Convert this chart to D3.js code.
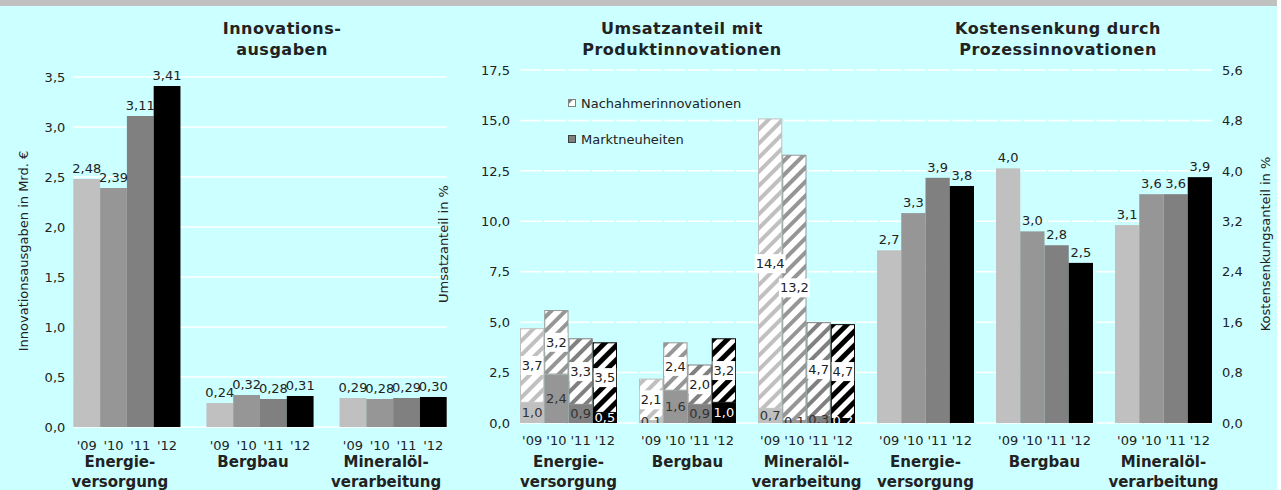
<!DOCTYPE html>
<html>
<head>
<meta charset="utf-8">
<script src="https://cdn.jsdelivr.net/npm/d3@7"></script>
<style>
  body { margin: 0; background: #fff; }
  text { font-family: "DejaVu Sans", Verdana, sans-serif; fill: #222; }
</style>
</head>
<body>
<div id="chart"></div>
<script>
const width = 1281;
const height = 490;

// data
const years = ["'09", "'10", "'11", "'12"];
const industries = [["Energie-", "versorgung"], ["Bergbau"], ["Mineralöl-", "verarbeitung"]];
const yearColors = ["#c0c0c0", "#969696", "#808080", "#000000"];

// Innovationsausgaben in Mrd. €
const ausgaben = [
  [2.48, 2.39, 3.11, 3.41],
  [0.24, 0.32, 0.28, 0.31],
  [0.29, 0.28, 0.29, 0.30]
];
// Umsatzanteil in %: Marktneuheiten (unten) und Nachahmerinnovationen (oben)
const marktneuheiten = [
  [1.0, 2.4, 0.9, 0.5],
  [0.1, 1.6, 0.9, 1.0],
  [0.7, 0.1, 0.3, 0.2]
];
const nachahmer = [
  [3.7, 3.2, 3.3, 3.5],
  [2.1, 2.4, 2.0, 3.2],
  [14.4, 13.2, 4.7, 4.7]
];
// Kostensenkungsanteil in %
const kosten = [
  [2.74, 3.33, 3.89, 3.76],
  [4.04, 3.04, 2.82, 2.54],
  [3.14, 3.63, 3.63, 3.90]
];

const ticksLeft = [0, 0.5, 1, 1.5, 2, 2.5, 3, 3.5];
const ticksMid = [0, 2.5, 5, 7.5, 10, 12.5, 15, 17.5];
const ticksRight = [0, 0.8, 1.6, 2.4, 3.2, 4.0, 4.8, 5.6];

const de = d3.formatLocale({decimal: ",", thousands: ".", grouping: [3], currency: ["", " €"]});
const f1 = de.format(".1f");
const f2 = de.format(".2f");

const svg = d3.select("#chart").append("svg")
  .attr("width", width)
  .attr("height", height);

svg.append("rect").attr("width", 1277).attr("height", height).attr("fill", "#ccffff");
svg.append("rect").attr("width", 1277).attr("height", 6).attr("fill", "#c0c0c0");

// hatch patterns for Nachahmerinnovationen
const defs = svg.append("defs");
yearColors.forEach((c, i) => {
  const p = defs.append("pattern")
    .attr("id", "hatch" + i)
    .attr("patternUnits", "userSpaceOnUse")
    .attr("width", 10).attr("height", 10)
    .attr("patternTransform", "rotate(45)");
  p.append("rect").attr("width", 10).attr("height", 10).attr("fill", "#fff");
  p.append("rect").attr("width", i == 3 ? 5 : 4).attr("height", 10).attr("fill", c);
});
defs.append("clipPath").attr("id", "plotclip")
  .append("rect").attr("x", 500).attr("y", 60).attr("width", 740).attr("height", 363);

function titleText(x, lines) {
  svg.append("text")
    .attr("x", x).attr("y", 34)
    .attr("text-anchor", "middle")
    .style("font-size", "16px").style("font-weight", "bold")
    .style("letter-spacing", "0.5px")
    .selectAll("tspan").data(lines).enter().append("tspan")
    .attr("x", x).attr("dy", (d, i) => i ? 21 : 0)
    .text(d => d);
}

function axisTitle(x, y, label) {
  svg.append("text")
    .attr("transform", "translate(" + x + "," + y + ") rotate(-90)")
    .attr("text-anchor", "middle")
    .attr("dominant-baseline", "central")
    .style("font-size", "13px")
    .text(label);
}

function styleAxis(g) {
  g.select(".domain").remove();
  g.selectAll("text").style("font-size", "13px").style("font-family", "DejaVu Sans, sans-serif").attr("fill", "#222");
}

function grid(y, ticks, x0, x1, dash) {
  svg.append("g").selectAll("line").data(ticks).enter().append("line")
    .attr("x1", x0).attr("x2", x1)
    .attr("y1", d => y(d)).attr("y2", d => y(d))
    .attr("stroke", "#fff").attr("stroke-width", 1.5)
    .attr("stroke-dasharray", dash);
}

function categoryLabels(x, yearY, shift) {
  const g = svg.append("g");
  industries.forEach((lines, i) => {
    years.forEach((yr, j) => {
      g.append("text")
        .attr("x", x.x0(i) + x.inner(yr) + x.inner.bandwidth() / 2)
        .attr("y", yearY)
        .attr("text-anchor", "middle")
        .style("font-size", "13px")
        .text(yr);
    });
    g.append("text")
      .attr("y", 467)
      .attr("text-anchor", "middle")
      .style("font-size", "15px").style("font-weight", "bold")
      .selectAll("tspan").data(lines).enter().append("tspan")
      .attr("x", x.x0(i) + x.band / 2 + shift)
      .attr("dy", (d, k) => k ? 20 : 0)
      .text(d => d);
  });
}

// ---------- left chart: Innovationsausgaben ----------
const xL = d3.scaleBand().domain([0, 1, 2]).range([60, 460]).paddingInner(0.195).paddingOuter(0.1);
const xLin = d3.scaleBand().domain(years).range([0, xL.bandwidth()]);
const yL = d3.scaleLinear().domain([0, 3.5]).range([427, 77]);

titleText(282, ["Innovations-", "ausgaben"]);
grid(yL, ticksLeft, xL(0), xL(2) + xL.bandwidth(), null);
svg.append("g").attr("transform", "translate(" + xL(0) + ",0)")
  .call(d3.axisLeft(yL).tickValues(ticksLeft).tickFormat(f1).tickSize(0).tickPadding(8))
  .call(styleAxis);
axisTitle(23, 251, "Innovationsausgaben in Mrd. €");

ausgaben.forEach((vals, i) => {
  const g = svg.append("g").attr("transform", "translate(" + xL(i) + ",0)");
  g.selectAll("rect").data(vals).enter().append("rect")
    .attr("x", (d, j) => xLin(years[j]))
    .attr("y", d => yL(d))
    .attr("width", xLin.bandwidth())
    .attr("height", d => yL(0) - yL(d))
    .attr("fill", (d, j) => yearColors[j]);
  g.selectAll("text").data(vals).enter().append("text")
    .attr("x", (d, j) => xLin(years[j]) + xLin.bandwidth() / 2)
    .attr("y", d => yL(d) - 6)
    .attr("text-anchor", "middle")
    .style("font-size", "13px")
    .text(d => f2(d));
});
categoryLabels({x0: i => xL(i), inner: xLin, band: xL.bandwidth()}, 450, -7);

// ---------- middle + right chart (shared plot) ----------
const slots = d3.range(6);
const xM = d3.scaleBand().domain(slots).range([509, 1223]).paddingInner(0.185).paddingOuter(0.0925);
const xMin = d3.scaleBand().domain(years).range([0, xM.bandwidth()]);
const yM = d3.scaleLinear().domain([0, 17.5]).range([423, 70]);
const yR = d3.scaleLinear().domain([0, 5.6]).range([423, 70]);

titleText(682, ["Umsatzanteil mit", "Produktinnovationen"]);
titleText(1058, ["Kostensenkung durch", "Prozessinnovationen"]);
grid(yM, ticksMid, xM(0), xM(5) + xM.bandwidth(), "22,2");
svg.append("g").attr("transform", "translate(" + xM(0) + ",0)")
  .call(d3.axisLeft(yM).tickValues(ticksMid).tickFormat(f1).tickSize(0).tickPadding(10))
  .call(styleAxis);
svg.append("g").attr("transform", "translate(" + (xM(5) + xM.bandwidth()) + ",0)")
  .call(d3.axisRight(yR).tickValues(ticksRight).tickFormat(f1).tickSize(0).tickPadding(10))
  .call(styleAxis);
axisTitle(443, 244, "Umsatzanteil in %");
axisTitle(1265, 244, "Kostensenkungsanteil in %");

// stacked hatched bars
marktneuheiten.forEach((vals, i) => {
  const g = svg.append("g").attr("transform", "translate(" + xM(i) + ",0)");
  vals.forEach((m, j) => {
    const n = nachahmer[i][j];
    const x = xMin(years[j]);
    const w = xMin.bandwidth();
    g.append("rect")
      .attr("x", x).attr("y", yM(m)).attr("width", w).attr("height", yM(0) - yM(m))
      .attr("fill", yearColors[j]);
    g.append("rect")
      .attr("x", x + 0.5).attr("y", yM(m + n) + 0.5).attr("width", w - 1).attr("height", yM(m) - yM(m + n) - 1)
      .attr("fill", "url(#hatch" + j + ")")
      .attr("stroke", yearColors[j]).attr("stroke-width", 1);
  });
});

// labels of the stacked bars, drawn on top
const labelLayer = svg.append("g").attr("clip-path", "url(#plotclip)");
marktneuheiten.forEach((vals, i) => {
  const lg = labelLayer.append("g").attr("transform", "translate(" + xM(i) + ",0)");
  vals.forEach((m, j) => {
    const n = nachahmer[i][j];
    const cx = xMin(years[j]) + xMin.bandwidth() / 2;
    lg.append("text")
      .attr("x", cx).attr("y", yM(m / 2))
      .attr("text-anchor", "middle").attr("dominant-baseline", "central")
      .style("font-size", "13px")
      .style("fill", j == 3 ? "#fff" : "#333")
      .text(f1(m));
  });
  vals.forEach((m, j) => {
    const n = nachahmer[i][j];
    const cx = xMin(years[j]) + xMin.bandwidth() / 2;
    const box = lg.append("rect").attr("fill", "#fff");
    const t = lg.append("text")
      .attr("x", cx).attr("y", yM(m + n / 2))
      .attr("text-anchor", "middle").attr("dominant-baseline", "central")
      .style("font-size", "13px")
      .text(f1(n));
    const bb = t.node().getBBox();
    box.attr("x", bb.x - 1).attr("y", yM(m + n / 2) - 9.5)
      .attr("width", bb.width + 2).attr("height", 19);
  });
});

// right chart bars
kosten.forEach((vals, i) => {
  const g = svg.append("g").attr("transform", "translate(" + xM(i + 3) + ",0)");
  g.selectAll("rect").data(vals).enter().append("rect")
    .attr("x", (d, j) => xMin(years[j]))
    .attr("y", d => yR(d))
    .attr("width", xMin.bandwidth())
    .attr("height", d => yR(0) - yR(d))
    .attr("fill", (d, j) => yearColors[j]);
  g.selectAll("text").data(vals).enter().append("text")
    .attr("x", (d, j) => xMin(years[j]) + xMin.bandwidth() / 2)
    .attr("y", d => yR(d) - 6)
    .attr("text-anchor", "middle")
    .style("font-size", "13px")
    .text(d => f1(d));
});

categoryLabels({x0: i => xM(i), inner: xMin, band: xM.bandwidth()}, 445, 0);
categoryLabels({x0: i => xM(i + 3), inner: xMin, band: xM.bandwidth()}, 445, 0);

// legend
const legend = svg.append("g").attr("transform", "translate(568,0)");
legend.append("rect").attr("x", 0.5).attr("y", 99.5).attr("width", 7).attr("height", 7)
  .attr("fill", "url(#hatch2)").attr("stroke", "#808080");
legend.append("rect").attr("x", 0.5).attr("y", 135.5).attr("width", 7).attr("height", 7)
  .attr("fill", "#808080").attr("stroke", "#404040");
legend.append("text").attr("x", 13).attr("y", 103).attr("dominant-baseline", "central")
  .style("font-size", "13px").text("Nachahmerinnovationen");
legend.append("text").attr("x", 13).attr("y", 139).attr("dominant-baseline", "central")
  .style("font-size", "13px").text("Marktneuheiten");
</script>
</body>
</html>
